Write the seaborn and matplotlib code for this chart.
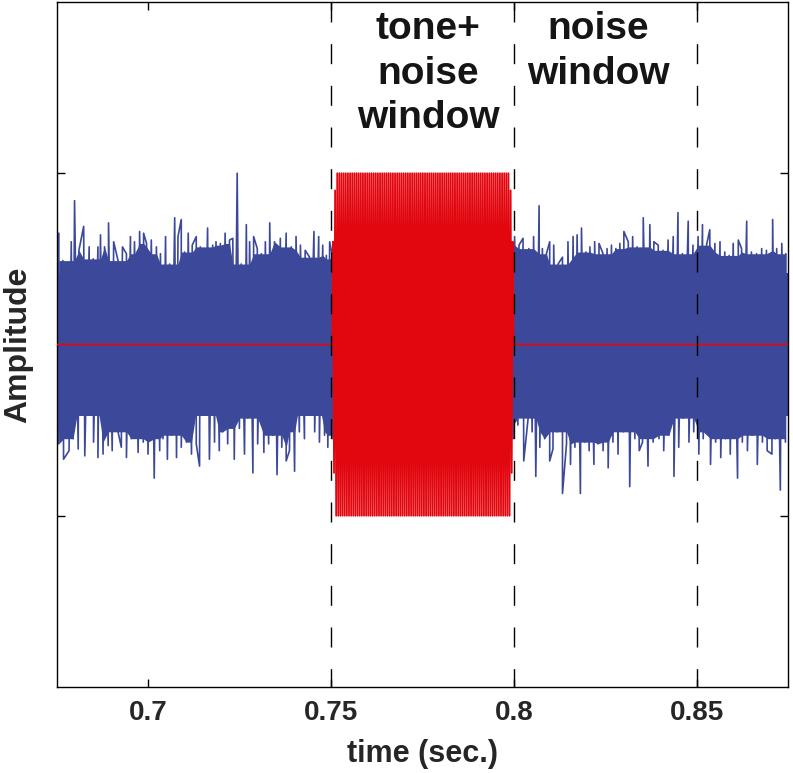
import numpy as np
import pandas as pd
import matplotlib
matplotlib.use("Agg")
import matplotlib.pyplot as plt
import seaborn as sns

# ---------------- data ----------------
# upper (positive) noise peaks: time (s) and amplitude
noise_up_t = [0.6755, 0.6766, 0.6789, 0.6798, 0.6810, 0.6823, 0.6838, 0.6849, 0.6862, 0.6869,
              0.6880, 0.6891, 0.6905, 0.6917, 0.6929, 0.6940, 0.6951, 0.6962, 0.6976, 0.6987,
              0.6995, 0.7008, 0.7022, 0.7033, 0.7047, 0.7058, 0.7072, 0.7081, 0.7090, 0.7099,
              0.7109, 0.7120, 0.7131, 0.7142, 0.7162, 0.7176, 0.7185, 0.7197, 0.7210, 0.7222,
              0.7231, 0.7243, 0.7254, 0.7268, 0.7277, 0.7288, 0.7298, 0.7309, 0.7320, 0.7332,
              0.7345, 0.7361, 0.7377, 0.7391, 0.7404, 0.7416, 0.7429, 0.7441, 0.7453, 0.7466,
              0.7477, 0.7487, 0.7496, 0.7505,
              0.7993, 0.8002, 0.8014, 0.8025, 0.8041, 0.8054, 0.8069, 0.8078, 0.8089, 0.8098,
              0.8109, 0.8121, 0.8133, 0.8148, 0.8162, 0.8173, 0.8185, 0.8197, 0.8208, 0.8221,
              0.8233, 0.8244, 0.8255, 0.8267, 0.8279, 0.8290, 0.8301, 0.8313, 0.8325, 0.8337,
              0.8354, 0.8372, 0.8383, 0.8395, 0.8408, 0.8422, 0.8436, 0.8449, 0.8461, 0.8477,
              0.8490, 0.8504, 0.8516, 0.8527, 0.8536, 0.8550, 0.8564, 0.8577, 0.8589, 0.8600,
              0.8614, 0.8623, 0.8637, 0.8650, 0.8664, 0.8678, 0.8691, 0.8708, 0.8719, 0.8733,
              0.8744]
noise_up_v = [0.65, 0.49, 0.60, 0.84, 0.55, 0.69, 0.57, 0.50, 0.57, 0.64,
              0.57, 0.71, 0.60, 0.49, 0.57, 0.53, 0.63, 0.60, 0.66, 0.65,
              0.59, 0.61, 0.57, 0.53, 0.63, 0.47, 0.74, 0.63, 0.73, 0.54,
              0.65, 0.58, 0.63, 0.57, 0.68, 0.58, 0.60, 0.59, 0.65, 0.61,
              0.62, 1.00, 0.47, 0.70, 0.60, 0.63, 0.56, 0.53, 0.60, 0.71,
              0.60, 0.62, 0.65, 0.57, 0.63, 0.58, 0.55, 0.51, 0.66, 0.63,
              0.58, 0.52, 0.60, 0.50,
              0.60, 0.63, 0.58, 0.62, 0.56, 0.63, 0.81, 0.56, 0.53, 0.60,
              0.58, 0.47, 0.51, 0.60, 0.63, 0.64, 0.68, 0.54, 0.57, 0.60,
              0.59, 0.53, 0.56, 0.58, 0.56, 0.59, 0.66, 0.60, 0.63, 0.57,
              0.74, 0.70, 0.60, 0.58, 0.55, 0.61, 0.63, 0.77, 0.53, 0.72,
              0.58, 0.63, 0.70, 0.58, 0.67, 0.59, 0.60, 0.54, 0.52, 0.59,
              0.61, 0.56, 0.72, 0.54, 0.53, 0.56, 0.55, 0.73, 0.56, 0.59,
              0.53]
# lower (negative) noise peaks
noise_lo_t = [0.6755, 0.6768, 0.6783, 0.6794, 0.6808, 0.6826, 0.6839, 0.6850, 0.6862, 0.6876,
              0.6890, 0.6901, 0.6917, 0.6926, 0.6940, 0.6953, 0.6972, 0.6986, 0.6999, 0.7016,
              0.7031, 0.7040, 0.7052, 0.7063, 0.7077, 0.7090, 0.7104, 0.7118, 0.7131, 0.7140,
              0.7153, 0.7167, 0.7181, 0.7194, 0.7203, 0.7217, 0.7235, 0.7249, 0.7263, 0.7272,
              0.7286, 0.7299, 0.7316, 0.7329, 0.7340, 0.7352, 0.7365, 0.7377, 0.7386, 0.7400,
              0.7413, 0.7427, 0.7441, 0.7455, 0.7468, 0.7482, 0.7491, 0.7505,
              0.7998, 0.8011, 0.8027, 0.8039, 0.8050, 0.8060, 0.8071, 0.8084, 0.8098, 0.8107,
              0.8118, 0.8133, 0.8144, 0.8155, 0.8167, 0.8182, 0.8194, 0.8206, 0.8219, 0.8230,
              0.8244, 0.8258, 0.8271, 0.8285, 0.8299, 0.8317, 0.8331, 0.8343, 0.8352,
              0.8367, 0.8381, 0.8397, 0.8410, 0.8424, 0.8438, 0.8451, 0.8463, 0.8479, 0.8492,
              0.8506, 0.8518, 0.8538, 0.8552, 0.8566, 0.8579, 0.8592, 0.8612, 0.8625, 0.8639,
              0.8652, 0.8666, 0.8680, 0.8693, 0.8706, 0.8715, 0.8729, 0.8743]
noise_lo_v = [-0.58, -0.67, -0.62, -0.55, -0.61, -0.65, -0.37, -0.57, -0.66, -0.64,
              -0.59, -0.62, -0.51, -0.60, -0.66, -0.55, -0.63, -0.57, -0.64, -0.78,
              -0.62, -0.55, -0.67, -0.53, -0.66, -0.60, -0.57, -0.64, -0.58, -0.71,
              -0.39, -0.67, -0.57, -0.62, -0.51, -0.58, -0.67, -0.49, -0.64, -0.43,
              -0.75, -0.58, -0.63, -0.58, -0.53, -0.76, -0.60, -0.68, -0.62, -0.74,
              -0.51, -0.55, -0.35, -0.51, -0.57, -0.53, -0.60, -0.55,
              -0.55, -0.47, -0.68, -0.43, -0.51, -0.77, -0.60, -0.55, -0.68, -0.61,
              -0.51, -0.87, -0.58, -0.70, -0.60, -0.87, -0.57, -0.62, -0.70, -0.58,
              -0.62, -0.72, -0.57, -0.64, -0.51, -0.83, -0.55, -0.62, -0.57,
              -0.71, -0.57, -0.55, -0.62, -0.53, -0.77, -0.60, -0.43, -0.57, -0.51,
              -0.64, -0.55, -0.70, -0.57, -0.66, -0.55, -0.64, -0.78, -0.57, -0.62,
              -0.53, -0.70, -0.57, -0.62, -0.64, -0.55, -0.85, -0.57]
noise_core = 0.42                       # half-height of the solid part of the noise band
noise_spans = [(0.675, 0.7505), (0.7993, 0.875)]

tone_on, tone_off = 0.7503, 0.7999      # tone window (s)
tone_freq = 1700                        # Hz (read from stripe spacing)
tone_amp = 1.0
tone_ramp = [0.6, 0.75, 0.9]            # onset / offset peak amplitudes

window_edges = [0.75, 0.80, 0.85]
xticks = [0.7, 0.75, 0.8, 0.85]
xtick_labels = ["0.7", "0.75", "0.8", "0.85"]
yticks = [-1, 0, 1]
xlim = (0.675, 0.875)
ylim = (-2, 2)
labels = [("tone+\nnoise\nwindow", 0.7765), ("noise\nwindow", 0.8230)]

BLUE = "#3c499a"
RED = "#e2070f"

# ---------------- build tables ----------------
up = pd.DataFrame({"t": noise_up_t, "v": noise_up_v})
lo = pd.DataFrame({"t": noise_lo_t, "v": noise_lo_v})
up["seg"] = np.where(up["t"] < 0.775, 0, 1)
lo["seg"] = np.where(lo["t"] < 0.775, 0, 1)
# dense body of the band: the lowest of neighbouring peaks
up["body"] = up.groupby("seg")["v"].transform(lambda s: s.rolling(5, center=True, min_periods=1).min())
lo["body"] = lo.groupby("seg")["v"].transform(lambda s: s.rolling(5, center=True, min_periods=1).max())
noise = pd.concat([up, lo], ignore_index=True).sort_values("t", kind="stable")

n_half = int(round((tone_off - tone_on) * tone_freq * 2))
amps = tone_ramp + [tone_amp] * (n_half - 2 * len(tone_ramp)) + tone_ramp[::-1]
signs = np.resize([1.0, -1.0], n_half)
tone_t = np.concatenate([[xlim[0], tone_on], np.linspace(tone_on + 0.0002, tone_off - 0.0002, n_half), [tone_off, xlim[1]]])
tone_v = np.concatenate([[0.0, 0.0], signs * np.array(amps), [0.0, 0.0]])
tone = pd.DataFrame({"t": tone_t, "v": tone_v})

# ---------------- plot ----------------
sns.set_theme(style="white")
plt.rcParams["font.family"] = ["Liberation Sans", "DejaVu Sans"]
plt.rcParams["font.weight"] = "bold"

fig = plt.figure(figsize=(7.93, 7.73), dpi=100)
ax = fig.add_axes([57 / 793, 1 - 687 / 773, (788 - 57) / 793, (687 - 2) / 773])

for a, b in noise_spans:
    ax.fill_between([a, b], [-noise_core, -noise_core], [noise_core, noise_core],
                    color=BLUE, lw=0, zorder=2)
for seg in (0, 1):
    u = up[up["seg"] == seg]
    l = lo[lo["seg"] == seg]
    ax.fill_between(u["t"], 0, u["body"], color=BLUE, lw=0, zorder=2)
    ax.fill_between(l["t"], l["body"], 0, color=BLUE, lw=0, zorder=2)
sns.lineplot(data=noise, x="t", y="v", units="seg", estimator=None, sort=False,
             color=BLUE, lw=1.2, ax=ax, zorder=2, legend=False)
sns.lineplot(data=tone, x="t", y="v", estimator=None, sort=False,
             color=RED, lw=1.3, ax=ax, zorder=3, legend=False)

for xe in window_edges:
    ax.plot([xe, xe], [ylim[1], ylim[0]], color="black", lw=1.0,
            dashes=(14.4, 15.6), dash_capstyle="butt", zorder=4)

for txt, xt in labels:
    ax.text(xt, 1.95, txt, ha="center", va="top", fontsize=28, fontweight="bold",
            linespacing=1.32, color="#151515", zorder=5)

ax.set_xlim(*xlim)
ax.set_ylim(*ylim)
ax.set_xticks(xticks)
ax.set_xticklabels(xtick_labels)
ax.set_yticks(yticks)
ax.set_yticklabels([])
ax.set_axisbelow(True)
ax.tick_params(axis="both", direction="in", length=6, width=1.0, color="black",
               top=True, right=True, bottom=True, left=True, labelsize=20, pad=9)
for lab in ax.get_xticklabels():
    lab.set_fontweight("bold")
ax.set_xlabel("time (sec.)", fontsize=22, fontweight="bold", labelpad=10)
ax.set_ylabel("Amplitude", fontsize=23, fontweight="bold", labelpad=8)
for s in ax.spines.values():
    s.set_color("black")
    s.set_linewidth(1.0)
    s.set_visible(True)

fig.savefig("out.png", dpi=100, facecolor="white")
